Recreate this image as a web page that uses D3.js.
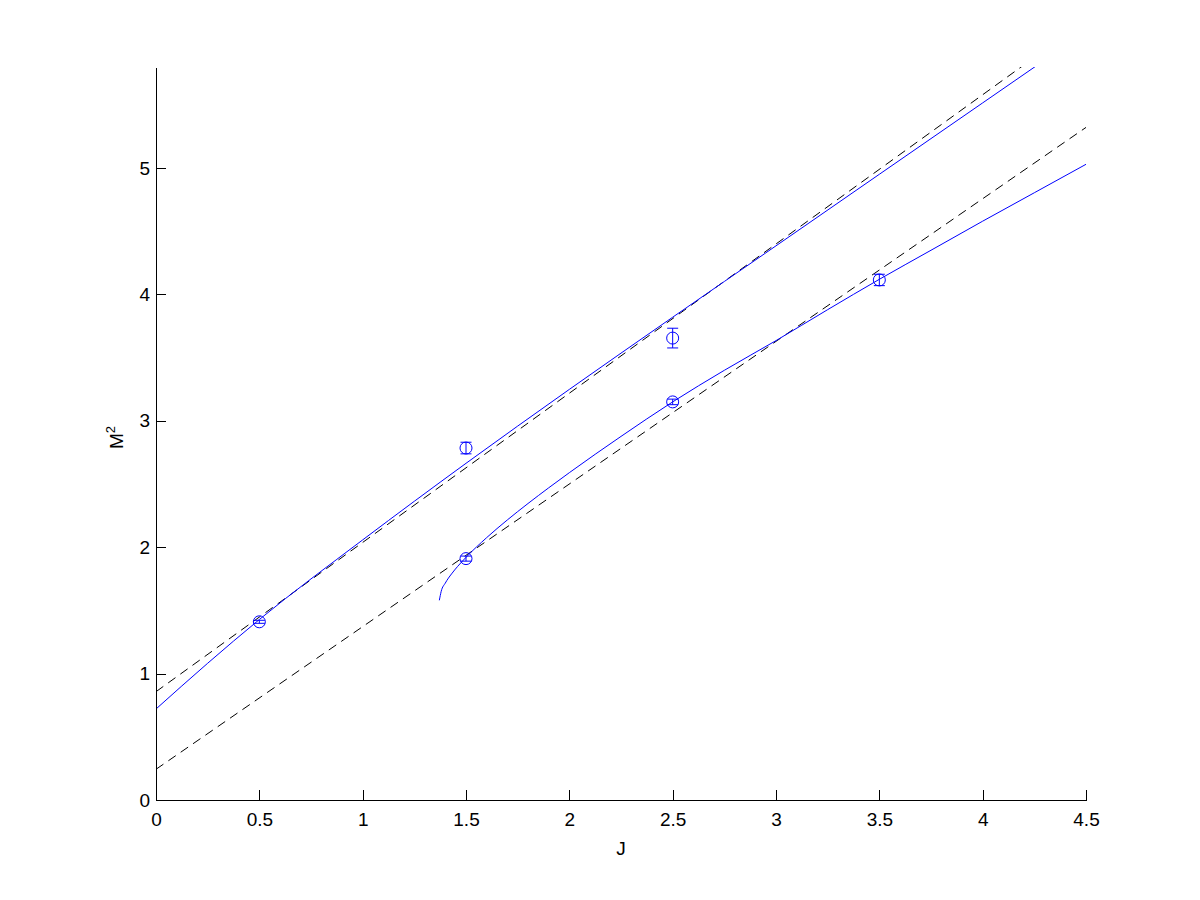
<!DOCTYPE html>
<html>
<head>
<meta charset="utf-8">
<script src="https://cdn.jsdelivr.net/npm/d3@7"></script>
<style>
  body { margin: 0; background: #fff; }
  svg { font-family: "Liberation Sans", Arial, sans-serif; }
  .axis text { font-size: 19px; fill: #000; }
  .axis path, .axis line { stroke: #000; shape-rendering: crispEdges; }
</style>
</head>
<body>
<svg width="1200" height="900"></svg>
<script>
// tick values
var xTicks = [0, 0.5, 1, 1.5, 2, 2.5, 3, 3.5, 4, 4.5];
var yTicks = [0, 1, 2, 3, 4, 5];

// measured points with error bars
var pointJ   = [0.5,  1.5,   1.5,  2.5,   2.5,  3.5];
var pointM2  = [1.41, 2.785, 1.91, 3.655, 3.15, 4.115];
var pointErr = [0.012, 0.046, 0.02, 0.078, 0.022, 0.045];

// dashed linear trajectories (end points)
var upperLineJ  = [0, 4.5];
var upperLineM2 = [0.857, 6.171];
var lowerLineJ  = [0, 4.5];
var lowerLineM2 = [0.243, 5.322];

// blue curves
var upperCurveJ  = [0, 0.25, 0.5, 1, 1.5, 2, 2.5, 3, 3.5, 4, 4.3];
var upperCurveM2 = [0.72, 1.082, 1.428, 2.058, 2.664, 3.249, 3.82, 4.385, 4.951, 5.516, 5.855];
var lowerCurveJ  = [1.371, 1.38, 1.4, 1.43, 1.46, 1.5, 1.6, 1.7, 1.8, 1.9, 2.0, 2.25, 2.5, 2.75, 3, 3.25, 3.5, 3.75, 4, 4.25, 4.5];
var lowerCurveM2 = [1.58, 1.651, 1.717, 1.789, 1.849, 1.92, 2.076, 2.216, 2.346, 2.47, 2.59, 2.877, 3.15, 3.40, 3.635, 3.88, 4.12, 4.35, 4.58, 4.805, 5.03];

var svg = d3.select("svg"),
    margin = {top: 67, right: 114, bottom: 100, left: 156},
    width = svg.attr("width") - margin.left - margin.right,
    height = svg.attr("height") - margin.top - margin.bottom;

var x = d3.scaleLinear().domain([0, 4.5]).range([0, width]),
    y = d3.scaleLinear().domain([0, 5.8]).range([height, 0]);

function zip(a, b) { return a.map(function(v, i) { return [v, b[i]]; }); }

svg.append("defs").append("clipPath")
    .attr("id", "clip")
  .append("rect")
    .attr("width", width)
    .attr("height", height);

var g = svg.append("g")
    .attr("transform", "translate(" + margin.left + "," + margin.top + ")");

var plot = g.append("g").attr("clip-path", "url(#clip)");

var line = d3.line()
    .x(function(d) { return x(d[0]); })
    .y(function(d) { return y(d[1]); });

var smooth = d3.line()
    .curve(d3.curveMonotoneX)
    .x(function(d) { return x(d[0]); })
    .y(function(d) { return y(d[1]); });

// dashed lines
[zip(upperLineJ, upperLineM2), zip(lowerLineJ, lowerLineM2)].forEach(function(d) {
  plot.append("path")
    .datum(d)
    .attr("d", line)
    .attr("fill", "none")
    .attr("stroke", "#000")
    .attr("stroke-width", 1)
    .attr("stroke-dasharray", "9,6");
});

// blue curves
[zip(upperCurveJ, upperCurveM2), zip(lowerCurveJ, lowerCurveM2)].forEach(function(d) {
  plot.append("path")
    .datum(d)
    .attr("d", smooth)
    .attr("fill", "none")
    .attr("stroke", "#0000ff")
    .attr("stroke-width", 1);
});

// error bars + circles
var pts = pointJ.map(function(j, i) { return {j: j, m: pointM2[i], e: pointErr[i]}; });
var pg = g.selectAll(".pt").data(pts).enter().append("g").attr("class", "pt")
    .attr("stroke", "#0000ff").attr("fill", "none");

pg.append("line")
    .attr("x1", function(d) { return x(d.j); })
    .attr("x2", function(d) { return x(d.j); })
    .attr("y1", function(d) { return y(d.m - d.e); })
    .attr("y2", function(d) { return y(d.m + d.e); });
pg.append("line")
    .attr("x1", function(d) { return x(d.j) - 5.5; })
    .attr("x2", function(d) { return x(d.j) + 5.5; })
    .attr("y1", function(d) { return y(d.m + d.e); })
    .attr("y2", function(d) { return y(d.m + d.e); });
pg.append("line")
    .attr("x1", function(d) { return x(d.j) - 5.5; })
    .attr("x2", function(d) { return x(d.j) + 5.5; })
    .attr("y1", function(d) { return y(d.m - d.e); })
    .attr("y2", function(d) { return y(d.m - d.e); });
pg.append("circle")
    .attr("cx", function(d) { return x(d.j); })
    .attr("cy", function(d) { return y(d.m); })
    .attr("r", 6);

// axes (ticks pointing inward, MATLAB style)
g.append("g")
    .attr("class", "axis")
    .attr("transform", "translate(0," + height + ")")
    .call(d3.axisBottom(x).tickValues(xTicks).tickFormat(d3.format("")).tickSizeInner(-10).tickSizeOuter(0).tickPadding(13));

g.append("g")
    .attr("class", "axis")
    .call(d3.axisLeft(y).tickValues(yTicks).tickFormat(d3.format("")).tickSizeInner(-10).tickSizeOuter(0).tickPadding(6));

g.selectAll(".axis .domain").attr("stroke-width", 1);
g.selectAll(".axis text").attr("font-family", null);

// axis titles
g.append("text")
    .attr("x", width / 2)
    .attr("y", height + 55)
    .attr("text-anchor", "middle")
    .attr("font-size", 19)
    .text("J");

var yl = g.append("text")
    .attr("text-anchor", "middle")
    .attr("transform", "translate(-33," + (height / 2 + 4) + ")rotate(-90)")
    .attr("font-size", 19);
yl.append("tspan").text("M");
yl.append("tspan").attr("font-size", 13).attr("dy", -8).text("2");
</script>
</body>
</html>
